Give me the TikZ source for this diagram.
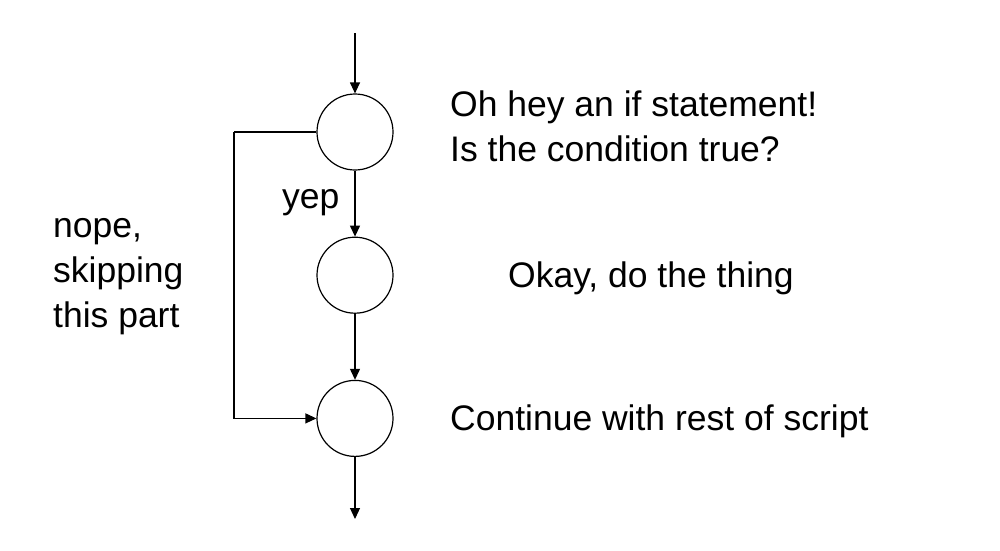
\documentclass[tikz,border=0pt]{standalone}
\usepackage{fontspec}
\setmainfont{Liberation Sans}
\usepackage{tikz}
\usetikzlibrary{arrows.meta,positioning}

\begin{document}
\begin{tikzpicture}[x=1pt,y=-1pt]
\tikzset{
	hollow node/.style = {circle, draw, line width = 1.2pt, minimum size = 76pt, inner sep = 0},
	flow line/.style = {line width = 1.2pt, -{Triangle[length = 11pt, width = 10pt]}},
	plain line/.style = {line width = 1.2pt},
	say text/.style = {inner sep = 0, font = \fontsize{35.5}{45}\selectfont, align = left}
}
\useasboundingbox (0,0) rectangle (1000,550);

\node(ask)[hollow node] at (355,132) {};
\node(act)[hollow node, below = 66pt of ask] {};
\node(cont)[hollow node, below = 66pt of act] {};
\coordinate (in) at (355,33);
\coordinate (out) at (355,519);
\coordinate (skip) at (234,132);

\draw[flow line] (in) -- (ask);
\draw[flow line] (ask) -- (act);
\draw[flow line] (act) -- (cont);
\draw[flow line] (cont) -- (out);
\draw[plain line] (ask.west) -- (skip);
\draw[flow line] (skip) |- (cont.west);

\node(asktext)[say text, anchor = west] at (450,126.5) {Oh hey an if statement!\\Is the condition true?};
\node(acttext)[say text, anchor = base west] at (508,287) {Okay, do the thing};
\node(conttext)[say text, anchor = base west] at (450,430) {Continue with rest of script};
\node(yep)[say text, anchor = base west] at (282,208) {yep};
\node(nope)[say text, anchor = north west] at (53,218) {nope,\\skipping\\this part};
\end{tikzpicture}
\end{document}
